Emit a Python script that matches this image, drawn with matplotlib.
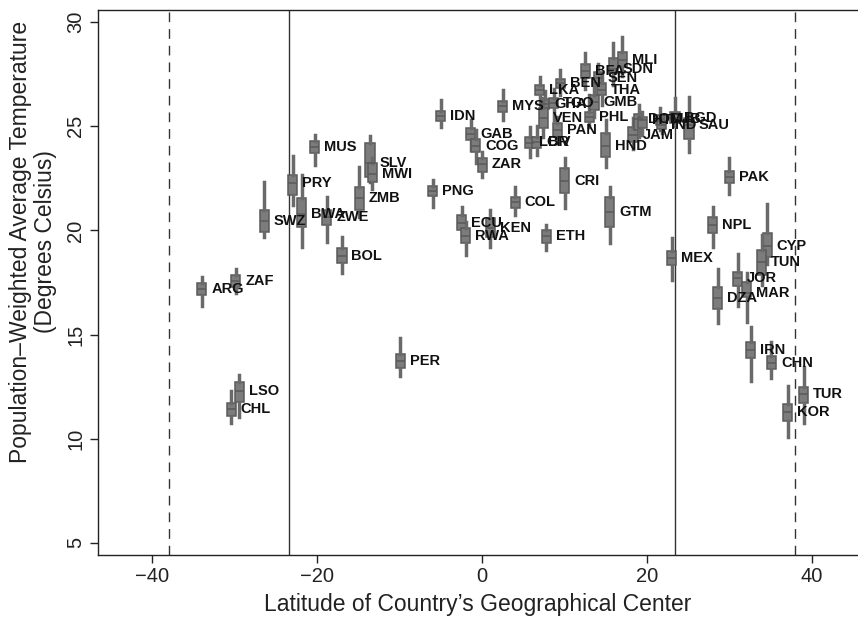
import numpy as np
import matplotlib
matplotlib.use("Agg")
import matplotlib.pyplot as plt

plt.rcParams['font.family'] = ['Liberation Sans', 'DejaVu Sans']

# country codes and latitude of geographical center
codes = ["IDN", "MYS", "GAB", "COG", "ZAR", "PNG", "COL", "ECU", "RWA", "KEN",
         "ETH", "CRI", "GTM", "HND", "PHL", "GMB", "GHA", "TGO", "LKA", "BEN",
         "BFA", "SDN", "MLI", "SEN", "THA", "VEN", "PAN", "LBR", "CIV",
         "JAM", "DOM", "HTI", "CUB", "BGD", "IND", "SAU",
         "MEX", "PAK", "NPL", "CYP", "TUN", "JOR", "MAR", "DZA", "IRN", "CHN",
         "TUR", "KOR",
         "MUS", "PRY", "BWA", "SWZ", "ZWE", "ZMB", "SLV", "MWI", "BOL", "ARG",
         "ZAF", "LSO", "CHL", "PER"]
lat = [-5.0, 2.5, -1.4, -0.8, 0.0, -6.0, 4.0, -2.5, -2.0, 1.0,
       7.8, 10.0, 15.5, 15.0, 13.0, 13.6, 7.6, 8.7, 7.0, 9.5,
       12.5, 15.9, 17.0, 14.1, 14.5, 7.4, 9.1, 5.8, 6.6,
       18.3, 19.0, 19.4, 21.6, 23.4, 21.8, 25.1,
       23.0, 30.0, 28.0, 34.6, 33.9, 31.0, 32.1, 28.6, 32.6, 35.1,
       39.0, 37.1,
       -20.3, -23.0, -21.9, -26.45, -18.85, -14.9, -13.6, -13.3, -17.0, -34.0,
       -29.9, -29.45, -30.45, -9.95]

# population-weighted temperature distribution per country (deg C)
t_lo = [24.98, 25.30, 23.86, 23.22, 22.58, 21.14, 20.74, 19.80, 18.80, 19.20,
        19.06, 21.06, 19.40, 23.06, 24.98, 25.46, 25.40, 25.30, 26.10, 26.50,
        26.80, 27.00, 27.40, 26.60, 26.00, 24.50, 24.18, 23.54, 23.60,
        23.90, 24.50, 24.60, 24.80, 25.00, 24.70, 23.78,
        17.62, 21.75, 19.20, 18.40, 17.40, 16.37, 15.62, 15.54, 12.79, 12.93,
        10.77, 10.10,
        23.15, 21.22, 19.20, 19.70, 19.46, 20.66, 22.30, 22.00, 17.94, 16.39,
        17.00, 11.06, 10.74, 13.03]
t_q1 = [25.26, 25.70, 24.34, 23.78, 22.82, 21.65, 21.06, 20.02, 19.40, 19.70,
        19.40, 21.78, 20.18, 23.54, 25.22, 25.78, 25.82, 25.86, 26.50, 26.82,
        27.30, 27.55, 27.86, 27.06, 26.50, 24.90, 24.50, 23.94, 23.98,
        24.26, 24.80, 24.90, 25.06, 25.14, 24.85, 24.40,
        18.34, 22.27, 19.88, 18.74, 17.86, 17.33, 16.82, 16.21, 13.86, 13.33,
        11.73, 10.87,
        23.70, 21.70, 20.17, 19.94, 20.26, 20.98, 22.58, 22.34, 18.42, 16.90,
        17.30, 11.78, 11.09, 13.41]
t_med = [25.49, 25.97, 24.61, 24.06, 23.17, 21.89, 21.35, 20.37, 19.75, 20.10,
         19.73, 22.39, 20.90, 24.06, 25.46, 26.18, 26.05, 26.10, 26.74, 27.06,
         27.65, 27.75, 28.20, 27.30, 26.74, 25.40, 24.82, 24.22, 24.26,
         24.60, 25.35, 25.30, 25.35, 25.40, 25.05, 25.05,
         18.68, 22.56, 20.26, 19.25, 18.50, 17.70, 17.00, 16.74, 14.26, 13.65,
         12.13, 11.30,
         24.00, 22.26, 20.80, 20.47, 20.63, 21.54, 23.25, 22.70, 18.77, 17.18,
         17.55, 12.29, 11.41, 13.73]
t_q3 = [25.75, 26.21, 24.90, 24.37, 23.50, 22.13, 21.62, 20.74, 20.12, 20.60,
        20.02, 22.98, 21.62, 24.66, 25.70, 26.50, 26.30, 26.34, 26.98, 27.25,
        28.00, 28.27, 28.57, 27.60, 27.06, 25.90, 25.14, 24.50, 24.50,
        24.98, 25.60, 25.46, 25.54, 25.70, 25.25, 25.40,
        19.01, 22.85, 20.64, 19.89, 19.06, 18.02, 17.54, 17.30, 14.63, 13.97,
        12.50, 11.67,
        24.30, 22.66, 21.55, 20.98, 20.98, 22.10, 24.18, 23.22, 19.14, 17.46,
        17.86, 12.74, 11.73, 14.06]
t_hi = [26.26, 26.74, 25.30, 24.82, 23.78, 22.42, 22.10, 21.14, 20.40, 21.00,
        20.26, 23.46, 22.10, 25.30, 26.50, 27.06, 26.70, 26.80, 27.38, 27.70,
        28.50, 29.00, 29.30, 28.00, 27.50, 26.35, 25.46, 24.98, 25.00,
        25.40, 26.00, 25.70, 25.90, 26.35, 25.50, 26.40,
        19.63, 23.47, 21.12, 21.25, 19.80, 18.87, 17.96, 18.13, 15.35, 14.66,
        13.46, 12.53,
        24.60, 23.57, 22.66, 22.34, 21.60, 23.06, 24.55, 23.50, 19.70, 17.78,
        18.13, 13.06, 12.29, 14.82]

tropics = 23.44
dashed_lat = 38

fig = plt.figure(figsize=(8.58, 6.18), dpi=100)
ax = fig.add_axes([98 / 858, 1 - 555 / 618, 1 - 98 / 858, (555 - 10) / 618])

stats = []
for i in range(len(codes)):
    stats.append(dict(med=t_med[i], q1=t_q1[i], q3=t_q3[i],
                      whislo=t_lo[i], whishi=t_hi[i], label=codes[i]))

ax.bxp(stats, positions=lat, widths=1.1, patch_artist=True,
       showcaps=False, showfliers=False, manage_ticks=False,
       boxprops=dict(facecolor='#7c7c7c', edgecolor='#5a5a5a', linewidth=1.1),
       medianprops=dict(color='#5a5a5a', linewidth=1.1),
       whiskerprops=dict(color='#6a6a6a', linewidth=2.5))

for i in range(len(codes)):
    ax.text(lat[i] + 1.15, t_med[i], codes[i], fontsize=10.5, fontweight='bold',
            color='#111111', va='center', ha='left')

for x in (-tropics, tropics):
    ax.axvline(x, color='#333333', linewidth=1.0, zorder=0)
for x in (-dashed_lat, dashed_lat):
    ax.axvline(x, color='#333333', linewidth=1.0, dashes=(7, 5), zorder=0)

ax.set_xlim(-46.6, 45.6)
ax.set_ylim(4.42, 30.58)
ax.set_xticks([-40, -20, 0, 20, 40])
ax.set_xticklabels(['\u221240', '\u221220', '0', '20', '40'])
ax.set_yticks([5, 10, 15, 20, 25, 30])
ax.tick_params(axis='both', direction='out', length=6, width=1,
               labelsize=14.5, colors='#222222', pad=3)
for lab in ax.get_yticklabels():
    lab.set_rotation(90)
    lab.set_va('center')

ax.spines['right'].set_visible(False)
for s in ('left', 'bottom', 'top'):
    ax.spines[s].set_color('#222222')
    ax.spines[s].set_linewidth(1.0)

ax.set_xlabel("Latitude of Country\u2019s Geographical Center", fontsize=16.5,
              color='#222222', labelpad=5)
ax.set_ylabel("Population\u2013Weighted Average Temperature\n(Degrees Celsius)",
              fontsize=16.5, color='#222222', linespacing=1.1)
ax.yaxis.set_label_coords(-0.054, 0.575)

fig.savefig("out.png", dpi=100)
